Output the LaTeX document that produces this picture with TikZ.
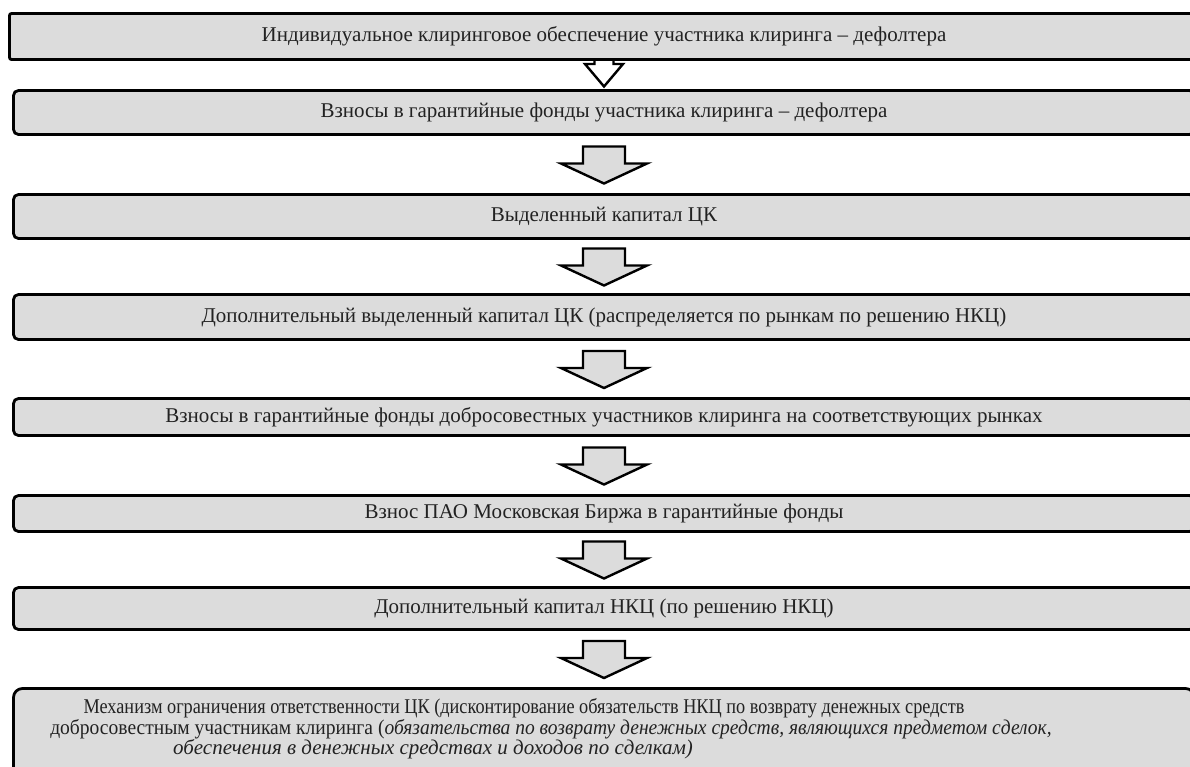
\documentclass[tikz,border=0pt]{standalone}
\usepackage{fontspec}
\setmainfont{Liberation Serif}
\usetikzlibrary{calc}
\definecolor{boxgray}{HTML}{DCDCDC}
\definecolor{inkgray}{HTML}{222222}
\tikzset{
  stage/.style={draw=black, line width=2.8pt, fill=boxgray, rounded corners=5pt,
    inner sep=0pt, font=\fontsize{21}{24}\selectfont, text=inkgray},
  stagetext/.style={inner sep=0pt, font=\fontsize{21}{24}\selectfont, text=inkgray},
  blockarr/.style={draw=black, line width=2.4pt, fill=boxgray, line join=miter},
}
% block arrow centred in the gap between two stacked boxes
\newcommand\flowarrow[2]{%
  \draw[blockarr] let \p1=(#1.south), \p2=(#2.north), \n1={(\y1+\y2)/2} in
    ({\x1-21pt},{\n1+18pt}) -- ({\x1+21pt},{\n1+18pt}) -- ({\x1+21pt},{\n1+1pt})
    -- ({\x1+43pt},{\n1+1pt}) -- (\x1,{\n1-19pt}) -- ({\x1-43pt},{\n1+1pt})
    -- ({\x1-21pt},{\n1+1pt}) -- cycle;}
\begin{document}
\begin{tikzpicture}[x=1pt,y=-1pt]
\useasboundingbox (0,0) rectangle (1190,766);
\clip (0,0) rectangle (1190,766);

% first arrow sits partly under the top box, so it goes first
\draw[blockarr, fill=white] (594.5,50) -- (613.5,50) -- (613.5,64) -- (623,64)
  -- (604,86.5) -- (585,64) -- (594.5,64) -- cycle;

\node[stage, rounded corners=2pt, minimum width=1189pt, minimum height=46pt] (b1) at (604,36.5)
  {Индивидуальное клиринговое обеспечение участника клиринга – дефолтера};
\node[stage, minimum width=1181pt, minimum height=44pt] (b2) at (604,112.5)
  {Взносы в гарантийные фонды участника клиринга – дефолтера};
\node[stage, minimum width=1181pt, minimum height=44pt] (b3) at (604,216.5)
  {Выделенный капитал ЦК};
\node[stage, minimum width=1181pt, minimum height=45pt] (b4) at (604,317)
  {Дополнительный выделенный капитал ЦК (распределяется по рынкам по решению НКЦ)};
\node[stage, minimum width=1181pt, minimum height=37pt] (b5) at (604,417)
  {Взносы в гарантийные фонды добросовестных участников клиринга на соответствующих рынках};
\node[stage, minimum width=1181pt, minimum height=36pt] (b6) at (604,513.5)
  {Взнос ПАО Московская Биржа в гарантийные фонды};
\node[stage, minimum width=1181pt, minimum height=42pt] (b7) at (604,608.5)
  {Дополнительный капитал НКЦ (по решению НКЦ)};
\node[stage, rounded corners=9pt, minimum width=1181pt, minimum height=100pt] (b8) at (604,738.5) {};

\node[stagetext] (t1) at (524,708)
  {\scalebox{0.87}[1]{Механизм ограничения ответственности ЦК (дисконтирование обязательств НКЦ по возврату денежных средств}};
\node[stagetext] (t2) at (551,729)
  {\scalebox{0.93}[1]{добросовестным участникам клиринга (\textit{обязательства по возврату денежных средств, являющихся предметом сделок,}}};
\node[stagetext] (t3) at (433,749)
  {\textit{обеспечения в денежных средствах и доходов по сделкам)}};

\flowarrow{b2}{b3}
\flowarrow{b3}{b4}
\flowarrow{b4}{b5}
\flowarrow{b5}{b6}
\flowarrow{b6}{b7}
\flowarrow{b7}{b8}
\end{tikzpicture}
\end{document}
